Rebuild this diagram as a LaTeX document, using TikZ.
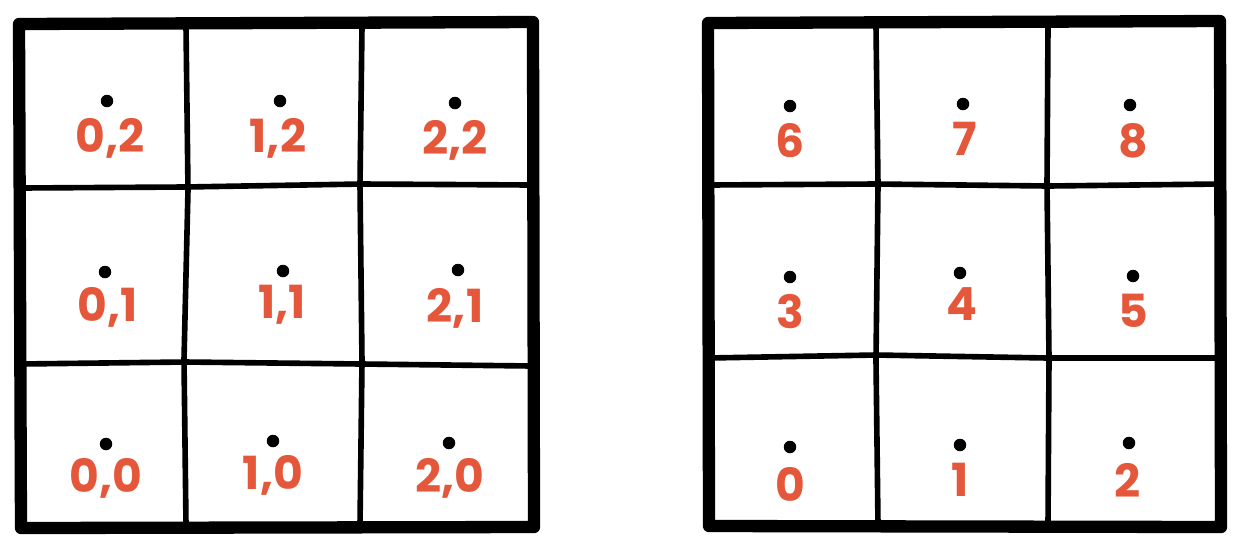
\documentclass[tikz,border=0pt]{standalone}
\usepackage{fontspec}
\setmainfont{Poppins}
\definecolor{lab}{HTML}{E4573A}
\begin{document}
\begin{tikzpicture}[x=0.02cm,y=-0.02cm,
  outer/.style={line width=7pt,line join=round,line cap=round},
  inner/.style={line width=3.2pt,line cap=round},
  pt/.style={circle,fill=black,inner sep=0pt,minimum size=0.25cm},
  lbl/.style={text=lab,font=\fontsize{26}{28}\selectfont\bfseries,inner sep=0pt}]
\useasboundingbox (0,0) rectangle (1244,556);
% left grid
\draw[inner] (186,26) -- (188,190) -- (184,360) -- (186,525);
\draw[inner] (362,26) -- (360,185) -- (362,362) -- (360,525);
\draw[inner] (20,188) -- (185,187) -- (362,184) -- (532,185);
\draw[inner] (20,364) -- (185,362) -- (362,364) -- (532,366);
\draw[outer] (19,24) -- (533,22) -- (534,527) -- (21,528) -- cycle;
% right grid
\draw[inner] (876,26) -- (878,185) -- (876,360) -- (878,525);
\draw[inner] (1048,26) -- (1047,185) -- (1049,358) -- (1048,525);
\draw[inner] (708,185) -- (876,184) -- (1048,186) -- (1220,184);
\draw[inner] (708,358) -- (876,355) -- (1048,358) -- (1220,358);
\draw[outer] (708,23) -- (1220,21) -- (1221,527) -- (709,526) -- cycle;
% left dots and labels
\node[pt] (d02) at (107,101) {}; \node[lbl] (l02) at (110,138) {0,2};
\node[pt] (d12) at (280,101) {}; \node[lbl] (l12) at (278,138) {1,2};
\node[pt] (d22) at (455,103) {}; \node[lbl] (l22) at (455,140) {2,2};
\node[pt] (d01) at (105,272) {}; \node[lbl] (l01) at (108,307) {0,1};
\node[pt] (d11) at (283,271) {}; \node[lbl] (l11) at (282,305) {1,1};
\node[pt] (d21) at (458,270) {}; \node[lbl] (l21) at (455,308) {2,1};
\node[pt] (d00) at (106,444) {}; \node[lbl] (l00) at (106,478) {0,0};
\node[pt] (d10) at (273,441) {}; \node[lbl] (l10) at (273,475) {1,0};
\node[pt] (d20) at (449,443) {}; \node[lbl] (l20) at (450,478) {2,0};
% right dots and labels
\node[pt] (r6) at (790,106) {}; \node[lbl] (n6) at (790,141) {6};
\node[pt] (r7) at (963,104) {}; \node[lbl] (n7) at (965,139) {7};
\node[pt] (r8) at (1130,105) {}; \node[lbl] (n8) at (1133,141) {8};
\node[pt] (r3) at (790,277) {}; \node[lbl] (n3) at (790,312) {3};
\node[pt] (r4) at (960,273) {}; \node[lbl] (n4) at (962,304) {4};
\node[pt] (r5) at (1133,276) {}; \node[lbl] (n5) at (1133,311) {5};
\node[pt] (r0) at (790,447) {}; \node[lbl] (n0) at (790,484) {0};
\node[pt] (r1) at (960,445) {}; \node[lbl] (n1) at (960,480) {1};
\node[pt] (r2) at (1129,443) {}; \node[lbl] (n2) at (1128,480) {2};
\end{tikzpicture}
\end{document}
